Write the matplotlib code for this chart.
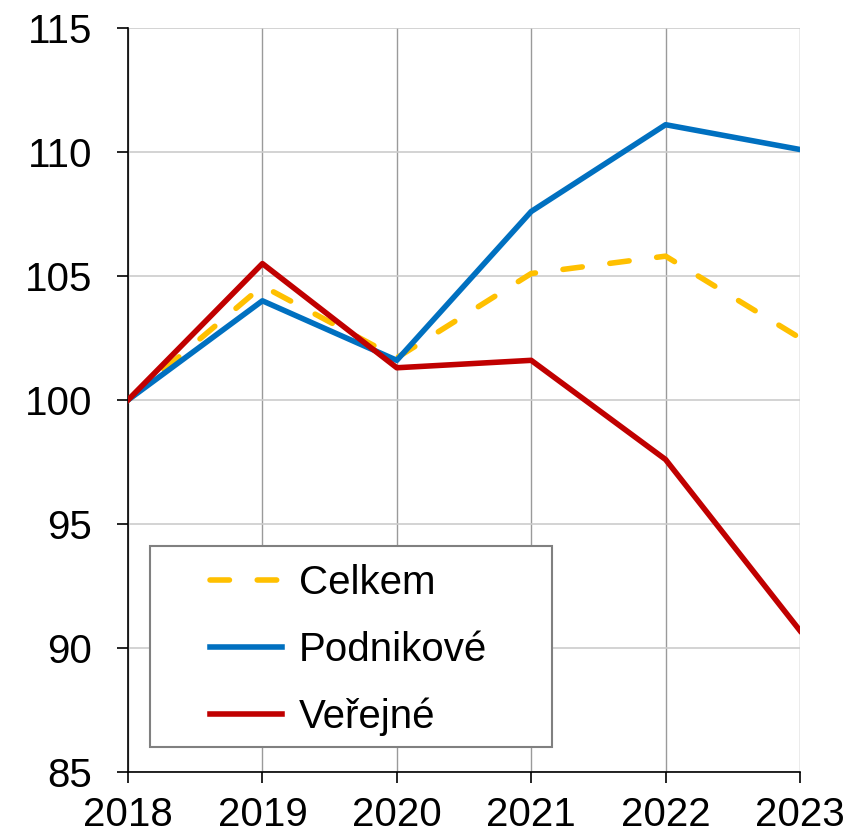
import matplotlib.pyplot as plt
from matplotlib.patches import Rectangle

plt.rcParams['font.family'] = ['Liberation Sans', 'DejaVu Sans']

years = [2018, 2019, 2020, 2021, 2022, 2023]
celkem = [100, 104.6, 101.7, 105.1, 105.8, 102.5]
podnikove = [100, 104.0, 101.6, 107.6, 111.1, 110.1]
verejne = [100, 105.5, 101.3, 101.6, 97.6, 90.7]

fig = plt.figure(figsize=(8.46, 8.35), dpi=100)
ax = fig.add_axes([0.1513, 0.0754, 0.7943, 0.8911])

ax.plot(years, celkem, color='#FFC000', lw=4, dashes=(3.5, 5),
        dash_capstyle='round', label='Celkem', zorder=3)
ax.plot(years, podnikove, color='#0070C0', lw=4, label='Podnikové', zorder=4)
ax.plot(years, verejne, color='#C00000', lw=4, label='Veřejné', zorder=5)

ax.set_xlim(2018, 2023)
ax.set_ylim(85, 115)
ax.set_xticks(years)
ax.set_yticks(range(85, 116, 5))
ax.yaxis.grid(True, color='#cccccc', lw=1.2)
ax.xaxis.grid(True, color='#9a9a9a', lw=1)
ax.set_axisbelow(True)
for s in ['top', 'right']:
    ax.spines[s].set_visible(False)
for s in ['left', 'bottom']:
    ax.spines[s].set_color('black')
    ax.spines[s].set_linewidth(1.2)
ax.tick_params(axis='both', labelsize=29, length=8, width=1.2, direction='out', colors='black')
ax.tick_params(axis='x', pad=9)
ax.tick_params(axis='y', pad=18)

# legend frame drawn separately so the padding matches
ax.add_patch(Rectangle((0.0327, 0.0336), 0.598, 0.270, transform=ax.transAxes,
                       facecolor='white', edgecolor='#808080', lw=1.5, zorder=6))
leg = ax.legend(loc='upper left', bbox_to_anchor=(0.122, 0.28), fontsize=29,
                handlelength=1.8, handletextpad=0.4, borderpad=0,
                labelspacing=0.72, borderaxespad=0, frameon=False)
leg.set_zorder(7)

fig.savefig('out.png', dpi=100)
